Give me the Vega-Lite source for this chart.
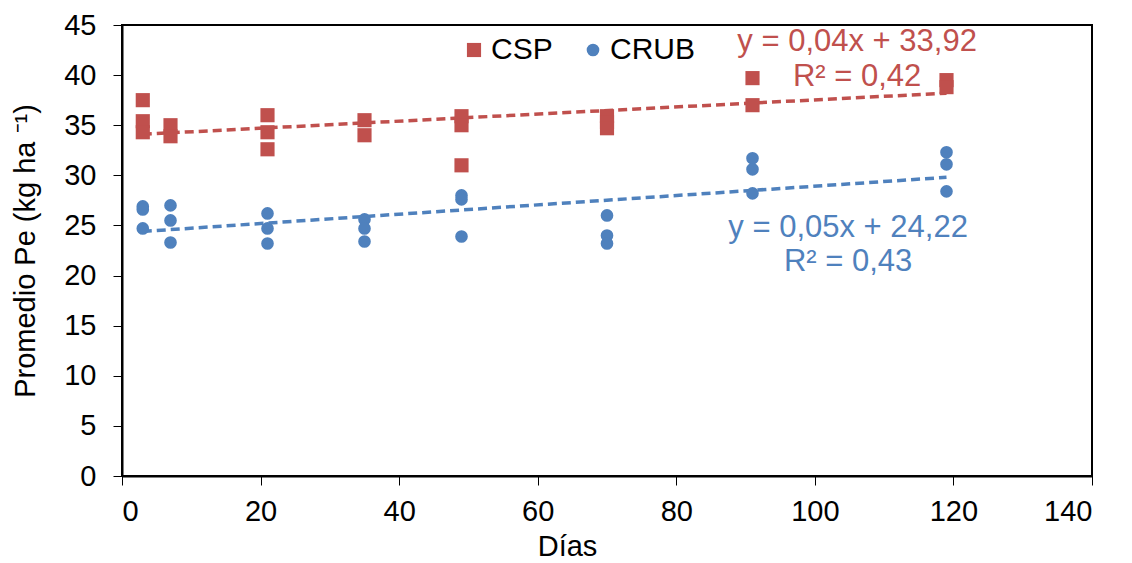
{
  "$schema": "https://vega.github.io/schema/vega-lite/v6.json",
  "autosize": "none",
  "width": 970,
  "height": 451,
  "padding": {"left": 122, "top": 25, "right": 40, "bottom": 87},
  "background": "white",
  "config": {
    "font": "Liberation Sans",
    "view": {"stroke": "black", "strokeWidth": 2},
    "axis": {"grid": false, "domainColor": "black", "domainWidth": 2, "tickColor": "black", "tickSize": 9, "tickWidth": 1, "labelFontSize": 29, "labelColor": "black", "titleFontSize": 29, "titleColor": "black", "titleFontWeight": "normal", "labelFont": "Liberation Sans", "titleFont": "Liberation Sans"}
  },
  "datasets": {
    "pts": [
      {"dias": 3, "pe": 37.5, "serie": "CSP"},
      {"dias": 3, "pe": 35.4, "serie": "CSP"},
      {"dias": 3, "pe": 34.3, "serie": "CSP"},
      {"dias": 7, "pe": 35.0, "serie": "CSP"},
      {"dias": 7, "pe": 33.9, "serie": "CSP"},
      {"dias": 21, "pe": 36.0, "serie": "CSP"},
      {"dias": 21, "pe": 34.3, "serie": "CSP"},
      {"dias": 21, "pe": 32.6, "serie": "CSP"},
      {"dias": 35, "pe": 35.5, "serie": "CSP"},
      {"dias": 35, "pe": 34.0, "serie": "CSP"},
      {"dias": 49, "pe": 35.9, "serie": "CSP"},
      {"dias": 49, "pe": 35.0, "serie": "CSP"},
      {"dias": 49, "pe": 31.0, "serie": "CSP"},
      {"dias": 70, "pe": 35.9, "serie": "CSP"},
      {"dias": 70, "pe": 35.3, "serie": "CSP"},
      {"dias": 70, "pe": 34.7, "serie": "CSP"},
      {"dias": 91, "pe": 39.7, "serie": "CSP"},
      {"dias": 91, "pe": 37.0, "serie": "CSP"},
      {"dias": 119, "pe": 39.5, "serie": "CSP"},
      {"dias": 119, "pe": 38.8, "serie": "CSP"},
      {"dias": 3, "pe": 26.9, "serie": "CRUB"},
      {"dias": 3, "pe": 26.6, "serie": "CRUB"},
      {"dias": 3, "pe": 24.7, "serie": "CRUB"},
      {"dias": 7, "pe": 27.0, "serie": "CRUB"},
      {"dias": 7, "pe": 25.5, "serie": "CRUB"},
      {"dias": 7, "pe": 23.3, "serie": "CRUB"},
      {"dias": 21, "pe": 26.2, "serie": "CRUB"},
      {"dias": 21, "pe": 24.7, "serie": "CRUB"},
      {"dias": 21, "pe": 23.2, "serie": "CRUB"},
      {"dias": 35, "pe": 25.6, "serie": "CRUB"},
      {"dias": 35, "pe": 24.7, "serie": "CRUB"},
      {"dias": 35, "pe": 23.4, "serie": "CRUB"},
      {"dias": 49, "pe": 28.0, "serie": "CRUB"},
      {"dias": 49, "pe": 27.6, "serie": "CRUB"},
      {"dias": 49, "pe": 23.9, "serie": "CRUB"},
      {"dias": 70, "pe": 26.0, "serie": "CRUB"},
      {"dias": 70, "pe": 24.0, "serie": "CRUB"},
      {"dias": 70, "pe": 23.2, "serie": "CRUB"},
      {"dias": 91, "pe": 31.7, "serie": "CRUB"},
      {"dias": 91, "pe": 30.6, "serie": "CRUB"},
      {"dias": 91, "pe": 28.2, "serie": "CRUB"},
      {"dias": 119, "pe": 32.3, "serie": "CRUB"},
      {"dias": 119, "pe": 31.1, "serie": "CRUB"},
      {"dias": 119, "pe": 28.4, "serie": "CRUB"}
    ],
    "trend": [
      {"dias": 3, "pe": 34.1, "serie": "CSP"},
      {"dias": 119, "pe": 38.2, "serie": "CSP"},
      {"dias": 3, "pe": 24.4, "serie": "CRUB"},
      {"dias": 119, "pe": 29.8, "serie": "CRUB"}
    ],
    "labels": [
      {"dias": 106.1, "pe": 43.3, "serie": "CSP", "txt": "y = 0,04x + 33,92"},
      {"dias": 106.1, "pe": 39.8, "serie": "CSP", "txt": "R² = 0,42"},
      {"dias": 104.8, "pe": 24.75, "serie": "CRUB", "txt": "y = 0,05x + 24,22"},
      {"dias": 104.8, "pe": 21.35, "serie": "CRUB", "txt": "R² = 0,43"}
    ]
  },
  "layer": [
    {
      "data": {"name": "trend"},
      "transform": [{"filter": "datum.serie == 'CSP'"}],
      "mark": {"type": "line", "strokeDash": [9, 5], "strokeWidth": 3.5, "color": "#C0504D"},
      "encoding": {
        "x": {"field": "dias", "type": "quantitative"},
        "y": {"field": "pe", "type": "quantitative"}
      }
    },
    {
      "data": {"name": "trend"},
      "transform": [{"filter": "datum.serie == 'CRUB'"}],
      "mark": {"type": "line", "strokeDash": [9, 5], "strokeWidth": 3.5, "color": "#4F81BD"},
      "encoding": {
        "x": {"field": "dias", "type": "quantitative"},
        "y": {"field": "pe", "type": "quantitative"}
      }
    },
    {
      "data": {"name": "pts"},
      "mark": {"type": "point", "filled": true, "opacity": 1},
      "encoding": {
        "x": {"field": "dias", "type": "quantitative", "title": "Días", "scale": {"domain": [0, 140], "nice": false}, "axis": {"values": [0, 20, 40, 60, 80, 100, 120, 140], "labelPadding": 12, "titleX": 445, "titleY": 79, "titleBaseline": "alphabetic"}},
        "y": {"field": "pe", "type": "quantitative", "title": "Promedio Pe (kg ha ⁻¹)", "scale": {"domain": [0, 45], "nice": false}, "axis": {"values": [0, 5, 10, 15, 20, 25, 30, 35, 40, 45], "labelPadding": 17, "titleX": -97, "titleBaseline": "middle"}},
        "color": {"field": "serie", "type": "nominal", "scale": {"domain": ["CSP", "CRUB"], "range": ["#C0504D", "#4F81BD"]}, "legend": {"orient": "none", "legendX": 337, "legendY": 10, "direction": "horizontal", "title": null, "labelFontSize": 30, "labelColor": "black", "symbolSize": 180, "columnPadding": 25, "labelOffset": 2, "symbolStrokeWidth": 0, "symbolOpacity": 1}},
        "shape": {"field": "serie", "type": "nominal", "scale": {"domain": ["CSP", "CRUB"], "range": ["square", "circle"]}, "legend": {"orient": "none", "legendX": 337, "legendY": 10, "direction": "horizontal", "title": null, "labelFontSize": 30, "labelColor": "black", "symbolSize": 180, "columnPadding": 25, "labelOffset": 2, "symbolStrokeWidth": 0, "symbolOpacity": 1}},
        "size": {"field": "serie", "type": "nominal", "scale": {"domain": ["CSP", "CRUB"], "range": [200, 160]}, "legend": null}
      }
    },
    {
      "data": {"name": "labels"},
      "transform": [{"filter": "datum.serie == 'CSP'"}],
      "mark": {"type": "text", "fontSize": 31, "align": "center", "baseline": "middle", "color": "#C0504D"},
      "encoding": {
        "x": {"field": "dias", "type": "quantitative"},
        "y": {"field": "pe", "type": "quantitative"},
        "text": {"field": "txt"}
      }
    },
    {
      "data": {"name": "labels"},
      "transform": [{"filter": "datum.serie == 'CRUB'"}],
      "mark": {"type": "text", "fontSize": 31, "align": "center", "baseline": "middle", "color": "#4F81BD"},
      "encoding": {
        "x": {"field": "dias", "type": "quantitative"},
        "y": {"field": "pe", "type": "quantitative"},
        "text": {"field": "txt"}
      }
    }
  ]
}
